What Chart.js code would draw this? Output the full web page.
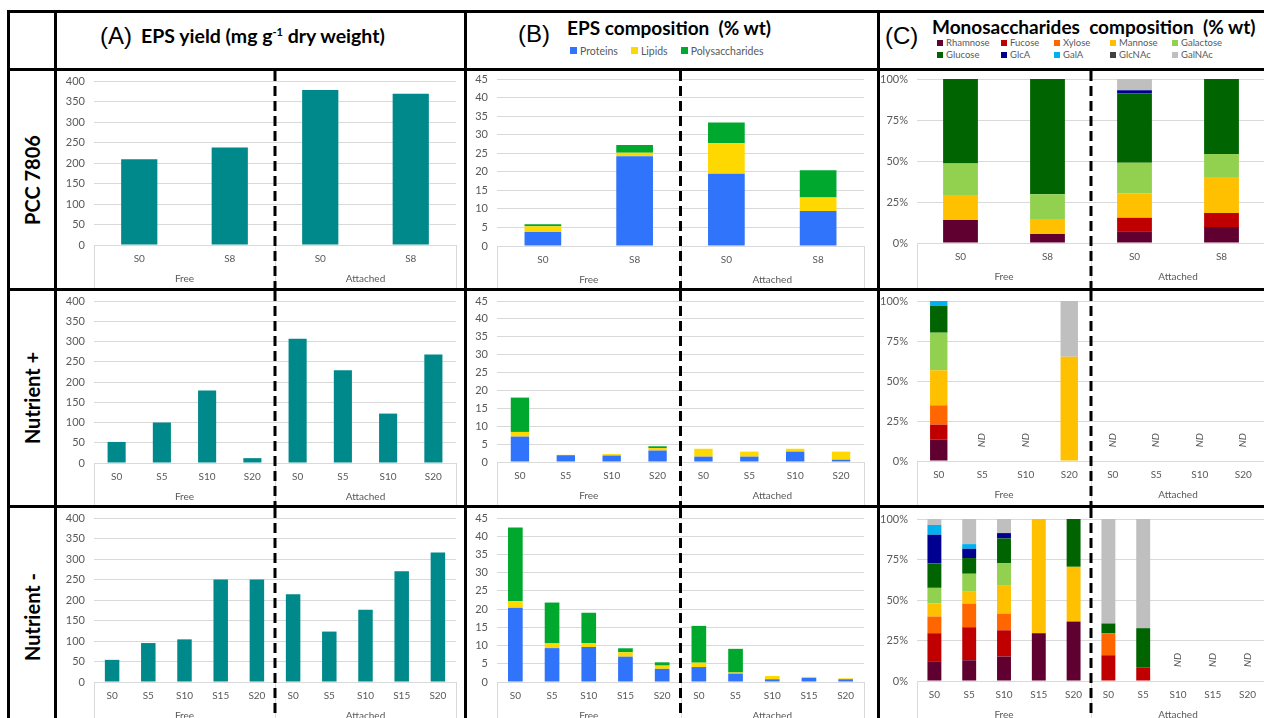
<!DOCTYPE html>
<html>
<head>
<meta charset="utf-8">
<title>EPS yield and composition</title>
<script src="https://cdn.jsdelivr.net/npm/chart.js@4.4.1/dist/chart.umd.min.js"></script>
<style>
  html, body { margin: 0; padding: 0; background: #fff; }
  #fig { position: relative; width: 1264px; height: 718px; overflow: hidden; font-family: Lato, "Open Sans", sans-serif; }
  .hl { position: absolute; left: 7px; width: 1300px; height: 3px; background: #000; }
  .vl { position: absolute; top: 10px; width: 3px; height: 720px; background: #000; }
  .panel { position: absolute; }
  .rowlab { position: absolute; font-weight: bold; font-size: 20px; white-space: nowrap;
            transform: translate(-50%, -50%) rotate(-90deg); }
  .hd { position: absolute; white-space: nowrap; line-height: 1; transform: translateY(-50%); }
  .letter { font-family: "Liberation Sans", Arial, sans-serif; font-size: 24px; }
  .title { font-weight: bold; font-size: 19px; }
  .title sup { font-size: 11px; vertical-align: 7px; }
  .legend { position: absolute; color: #595959; white-space: nowrap; }
  .legend span.item { display: inline-flex; align-items: center; }
  .legend i { display: inline-block; margin-right: 3px; }
</style>
</head>
<body>
<div id="fig">
  <div class="hd letter" style="left:100px;top:36px">(A)</div>
  <div class="hd title" style="left:141px;top:36px;font-size:19.5px">EPS yield (mg g<sup>-1</sup> dry weight)</div>
  <div class="hd letter" style="left:518px;top:34px">(B)</div>
  <div class="hd title" style="left:567px;top:27px">EPS composition&nbsp; (% wt)</div>
  <div class="hd letter" style="left:885px;top:36px">(C)</div>
  <div class="hd title" style="left:932px;top:26px">Monosaccharides&nbsp; composition&nbsp; (% wt)</div>
  <div id="legB" class="legend" style="left:570px;top:44px;font-size:10.5px"></div>
  <div id="legC" class="legend" style="left:937px;top:37px;font-size:9.5px"></div>
</div>

<script>
// ---- categories ----
const catsPcc = ['S0', 'S8', 'S0', 'S8'];
const catsPlus = ['S0', 'S5', 'S10', 'S20', 'S0', 'S5', 'S10', 'S20'];
const catsMinus = ['S0', 'S5', 'S10', 'S15', 'S20', 'S0', 'S5', 'S10', 'S15', 'S20'];
const groupNames = ['Free', 'Attached'];
const rowNames = ['PCC 7806', 'Nutrient +', 'Nutrient -'];

// ---- (A) EPS yield, mg/g ----
const yieldPcc = [209, 238, 378, 369];
const yieldPlus = [52, 100, 179, 12, 307, 229, 122, 268];
const yieldMinus = [54, 95, 104, 250, 250, 214, 123, 176, 270, 316];

// ---- (B) EPS composition, % wt ----
const compNames = ['Proteins', 'Lipids', 'Polysaccharides'];
const protPcc = [3.8, 24.2, 19.5, 9.4];
const lipPcc = [1.5, 0.9, 8.2, 3.65];
const polyPcc = [0.55, 2.1, 5.6, 7.35];
const protPlus = [7.1, 1.9, 1.8, 3.2, 1.5, 1.5, 2.9, 0.65];
const lipPlus = [1.3, 0.1, 0.4, 0.7, 2.2, 1.4, 0.8, 2.25];
const polyPlus = [9.6, 0, 0, 0.5, 0, 0, 0, 0];
const protMinus = [20.4, 9.3, 9.6, 6.95, 3.6, 4.1, 2.3, 0.75, 1.1, 0.75];
const lipMinus = [1.8, 1.3, 1.1, 1.2, 0.9, 1.2, 0.3, 0.9, 0.3, 0.25];
const polyMinus = [20.2, 11.2, 8.3, 1.1, 0.9, 10.1, 6.5, 0, 0, 0];

// ---- (C) monosaccharides, % wt ----
const sugarNames = ['Rhamnose', 'Fucose', 'Xylose', 'Mannose', 'Galactose',
                    'Glucose', 'GlcA', 'GalA', 'GlcNAc', 'GalNAc'];
const rhaPcc = [14, 5.5, 7.1, 9.7];
const fucPcc = [0, 0, 8.3, 8.6];
const xylPcc = [0, 0, 0, 0];
const manPcc = [15.2, 9.1, 14.8, 21.9];
const galPcc = [19.3, 15.2, 18.7, 14.0];
const glcPcc = [51.5, 70.2, 42.2, 45.8];
const glcaPcc = [0, 0, 2.0, 0];
const galaPcc = [0, 0, 0, 0];
const glcnacPcc = [0, 0, 0, 0];
const galnacPcc = [0, 0, 6.9, 0];

const rhaPlus = [13.5, 0, 0, 0, 0, 0, 0, 0];
const fucPlus = [9.2, 0, 0, 0, 0, 0, 0, 0];
const xylPlus = [12.1, 0, 0, 0, 0, 0, 0, 0];
const manPlus = [21.9, 0, 0, 65.2, 0, 0, 0, 0];
const galPlus = [23.5, 0, 0, 0, 0, 0, 0, 0];
const glcPlus = [16.9, 0, 0, 0, 0, 0, 0, 0];
const glcaPlus = [0, 0, 0, 0, 0, 0, 0, 0];
const galaPlus = [2.9, 0, 0, 0, 0, 0, 0, 0];
const glcnacPlus = [0, 0, 0, 0, 0, 0, 0, 0];
const galnacPlus = [0, 0, 0, 34.8, 0, 0, 0, 0];

const rhaMinus = [12.2, 12.8, 15.1, 29.5, 36.7, 0, 0, 0, 0, 0];
const fucMinus = [17.3, 20.4, 16.2, 0, 0, 15.9, 8.2, 0, 0, 0];
const xylMinus = [10.3, 14.6, 10.3, 0, 0, 13.6, 0, 0, 0, 0];
const manMinus = [8.0, 7.3, 17.6, 70.5, 33.8, 0, 0, 0, 0, 0];
const galMinus = [9.7, 11.1, 13.6, 0, 0, 0, 0, 0, 0, 0];
const glcMinus = [15.1, 9.7, 15.2, 0, 29.5, 6.0, 24.4, 0, 0, 0];
const glcaMinus = [17.7, 5.7, 3.3, 0, 0, 0, 0, 0, 0, 0];
const galaMinus = [6.0, 2.9, 0, 0, 0, 0, 0, 0, 0, 0];
const glcnacMinus = [0, 0, 0, 0, 0, 0, 0, 0, 0, 0];
const galnacMinus = [3.7, 15.5, 8.7, 0, 0, 64.5, 67.4, 0, 0, 0];

// ---- styles ----
const tealColor = '#00898a';
const compColors = ['#2f74fb', '#ffd800', '#00a92e'];
const sugarColors = ['#600030', '#c00000', '#ff6600', '#ffc000', '#92d050',
                     '#006400', '#000090', '#00b0f0', '#404040', '#bfbfbf'];
const GREY = '#595959';
const LINE = '#d9d9d9';

Chart.defaults.font.family = 'Lato, "Open Sans", sans-serif';

const fig = document.getElementById('fig');

// table borders
[10, 68, 288, 505].forEach(t => {
  const d = document.createElement('div'); d.className = 'hl'; d.style.top = t + 'px'; fig.appendChild(d);
});
[7, 54, 464, 877].forEach(l => {
  const d = document.createElement('div'); d.className = 'vl'; d.style.left = l + 'px'; fig.appendChild(d);
});

// row labels
[180, 398, 617].forEach((cy, i) => {
  const d = document.createElement('div');
  d.className = 'rowlab'; d.textContent = rowNames[i];
  d.style.left = '32px'; d.style.top = cy + 'px';
  fig.appendChild(d);
});

// header legends
function buildLegend(el, names, colors, perRow, colWidths, box) {
  names.forEach((name, i) => {
    if (i > 0 && i % perRow === 0) el.appendChild(document.createElement('br'));
    const s = document.createElement('span');
    s.className = 'item';
    if (colWidths) s.style.width = colWidths[i % perRow] + 'px';
    else s.style.marginRight = '13px';
    s.innerHTML = '<i style="width:' + box + 'px;height:' + box + 'px;background:' + colors[i] + '"></i>' + name;
    el.appendChild(s);
  });
}
buildLegend(document.getElementById('legB'), compNames, compColors, 3, null, 7);
buildLegend(document.getElementById('legC'), sugarNames, sugarColors, 5, [64, 53, 56, 62, 70], 6);
document.getElementById('legC').style.lineHeight = '12px';

// Excel-like two level category axis + dashed split line + ND marks
const excelAxis = {
  id: 'excelAxis',
  afterDraw(chart, args, o) {
    const { ctx, chartArea: ca, scales: { x, y } } = chart;
    const n = chart.data.labels.length;
    const cut = x.getPixelForValue(o.split - 0.5);
    ctx.save();
    ctx.strokeStyle = LINE;
    ctx.lineWidth = 1;
    ctx.beginPath();
    [ca.left, cut, ca.right].forEach(px => {
      const p = Math.round(px) + 0.5;
      ctx.moveTo(p, ca.bottom);
      ctx.lineTo(p, chart.height);
    });
    ctx.stroke();

    ctx.fillStyle = GREY;
    ctx.font = '10px ' + Chart.defaults.font.family;
    ctx.textAlign = 'center';
    ctx.textBaseline = 'middle';
    ctx.fillText(groupNames[0], x.getPixelForValue((o.split - 1) / 2), ca.bottom + 34);
    ctx.fillText(groupNames[1], x.getPixelForValue((o.split + n - 1) / 2), ca.bottom + 34);

    (o.nd || []).forEach((flag, i) => {
      if (!flag) return;
      ctx.save();
      ctx.translate(x.getPixelForValue(i), y.getPixelForValue(13));
      ctx.rotate(-Math.PI / 2);
      ctx.font = 'italic 10px ' + Chart.defaults.font.family;
      ctx.fillText('ND', 0, 0);
      ctx.restore();
    });

    ctx.strokeStyle = '#000';
    ctx.lineWidth = 3;
    ctx.setLineDash([10, 5]);
    ctx.beginPath();
    ctx.moveTo(cut, 0);
    ctx.lineTo(cut, chart.height);
    ctx.stroke();
    ctx.restore();
  }
};

const colBox = {
  A: { left: 57, width: 407, yw: 37, padR: 8 },
  B: { left: 467, width: 410, yw: 30, padR: 13 },
  C: { left: 880, width: 420, yw: 37, padR: 35 }
};
const rowBox = [{ top: 71, height: 217 }, { top: 291, height: 214 }, { top: 508, height: 222 }];

function makePanel(col, row, padT, xh, labels, datasets, yOpts, split, nd) {
  const c = colBox[col], r = rowBox[row];
  const div = document.createElement('div');
  div.className = 'panel';
  div.style.left = c.left + 'px';
  div.style.top = r.top + 'px';
  const cv = document.createElement('canvas');
  cv.width = c.width; cv.height = r.height;
  cv.style.width = c.width + 'px'; cv.style.height = r.height + 'px';
  div.appendChild(cv);
  fig.appendChild(div);

  new Chart(cv, {
    type: 'bar',
    data: { labels: labels, datasets: datasets },
    options: {
      responsive: false,
      animation: false,
      layout: { padding: { top: padT, right: c.padR, left: 0, bottom: 0 } },
      datasets: { bar: { categoryPercentage: 1, barPercentage: 0.4, borderWidth: 0 } },
      plugins: {
        legend: { display: false },
        tooltip: { enabled: false },
        excelAxis: { split: split, nd: nd }
      },
      scales: {
        x: {
          stacked: true,
          grid: { display: false, drawTicks: false },
          border: { color: LINE },
          ticks: { color: GREY, font: { size: 10 }, padding: 8, maxRotation: 0, autoSkip: false },
          afterFit: s => { s.height = xh; }
        },
        y: {
          stacked: true,
          min: 0,
          max: yOpts.max,
          grid: { color: LINE, drawTicks: false },
          border: { display: false },
          ticks: { stepSize: yOpts.step, color: GREY, font: { size: 11 }, padding: 9,
                   callback: yOpts.fmt || (v => v) },
          afterFit: s => { s.width = c.yw; s.paddingTop = 0; s.paddingBottom = 0; }
        }
      }
    },
    plugins: [excelAxis]
  });
}

const yA = { max: 400, step: 50 };
const yB = { max: 45, step: 5 };
const yC = { max: 100, step: 25, fmt: v => v + '%' };

const yieldSet = d => [{ label: 'EPS yield', data: d, backgroundColor: tealColor }];
const compSet = arrs => arrs.map((d, i) => ({ label: compNames[i], data: d, backgroundColor: compColors[i] }));
const sugarSet = arrs => arrs.map((d, i) => ({ label: sugarNames[i], data: d, backgroundColor: sugarColors[i] }));
const notDetected = arrs => arrs[0].map((_, k) => arrs.reduce((s, a) => s + a[k], 0) === 0);

const sugarsPcc = [rhaPcc, fucPcc, xylPcc, manPcc, galPcc, glcPcc, glcaPcc, galaPcc, glcnacPcc, galnacPcc];
const sugarsPlus = [rhaPlus, fucPlus, xylPlus, manPlus, galPlus, glcPlus, glcaPlus, galaPlus, glcnacPlus, galnacPlus];
const sugarsMinus = [rhaMinus, fucMinus, xylMinus, manMinus, galMinus, glcMinus, glcaMinus, galaMinus, glcnacMinus, galnacMinus];

// row 1 : PCC 7806
makePanel('A', 0, 10, 43, catsPcc, yieldSet(yieldPcc), yA, 2);
makePanel('B', 0, 8, 42, catsPcc, compSet([protPcc, lipPcc, polyPcc]), yB, 2);
makePanel('C', 0, 8, 45, catsPcc, sugarSet(sugarsPcc), yC, 2, notDetected(sugarsPcc));
// row 2 : Nutrient +
makePanel('A', 1, 10, 42, catsPlus, yieldSet(yieldPlus), yA, 4);
makePanel('B', 1, 10, 43, catsPlus, compSet([protPlus, lipPlus, polyPlus]), yB, 4);
makePanel('C', 1, 10, 44, catsPlus, sugarSet(sugarsPlus), yC, 4, notDetected(sugarsPlus));
// row 3 : Nutrient -
makePanel('A', 2, 10, 48, catsMinus, yieldSet(yieldMinus), yA, 5);
makePanel('B', 2, 10, 48, catsMinus, compSet([protMinus, lipMinus, polyMinus]), yB, 5);
makePanel('C', 2, 11, 49, catsMinus, sugarSet(sugarsMinus), yC, 5, notDetected(sugarsMinus));
</script>
</body>
</html>
